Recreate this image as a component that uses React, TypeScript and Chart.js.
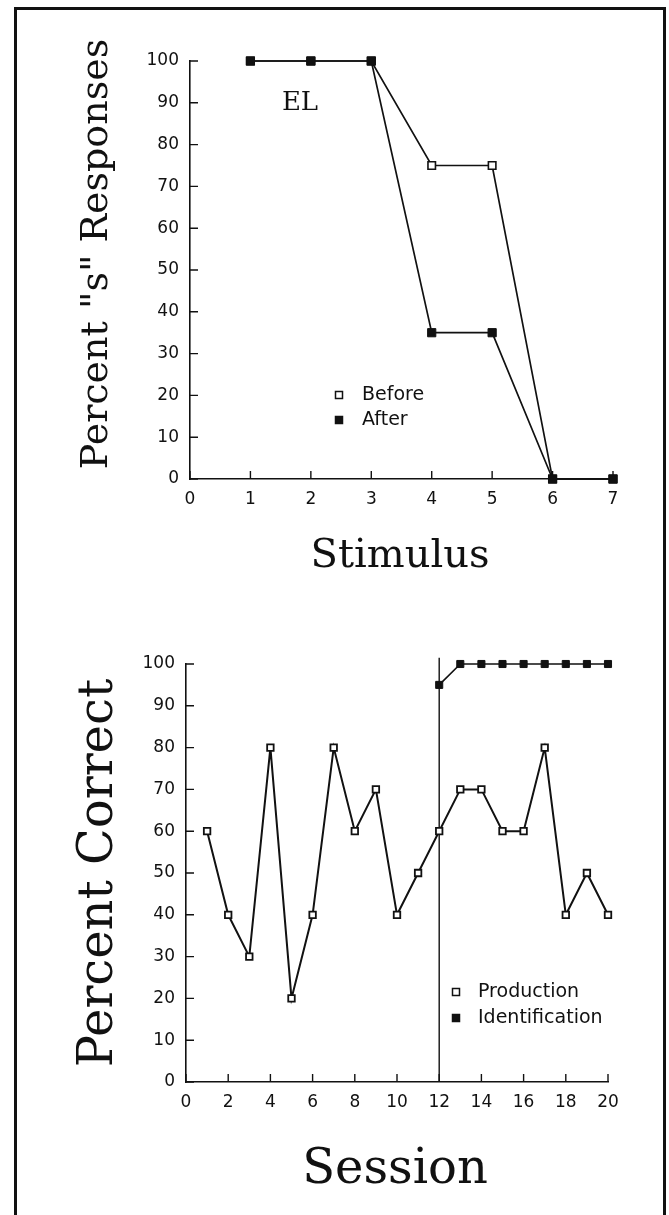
import React, { useEffect, useRef } from "react";
import { Chart, registerables } from "chart.js";

Chart.register(...registerables);

// ---------- Data: top panel (subject EL) ----------
const stimuli = [1, 2, 3, 4, 5, 6, 7];
const beforePercentS = [100, 100, 100, 75, 75, 0, 0];
const afterPercentS = [100, 100, 100, 35, 35, 0, 0];
const stimulusAxisMax = 7;

// ---------- Data: bottom panel ----------
const sessions = [1, 2, 3, 4, 5, 6, 7, 8, 9, 10, 11, 12, 13, 14, 15, 16, 17, 18, 19, 20];
const productionCorrect = [60, 40, 30, 80, 20, 40, 80, 60, 70, 40, 50, 60, 70, 70, 60, 60, 80, 40, 50, 40];
const identificationSessions = [12, 13, 14, 15, 16, 17, 18, 19, 20];
const identificationCorrect = [95, 100, 100, 100, 100, 100, 100, 100, 100];
const phaseChangeSession = 12;
const sessionAxisMax = 20;

const INK = "#111";
const TICK_FONT = { family: "'DejaVu Sans', sans-serif", size: 17 };
const SERIF = "'DejaVu Serif', serif";
const SANS = "'DejaVu Sans', sans-serif";

// ---------- Plugins ----------
const inwardTicks = (length: number, width: number) => ({
  id: "inwardTicks",
  beforeDatasetsDraw(chart: any) {
    const { ctx, chartArea } = chart;
    const xs = chart.scales.x;
    const ys = chart.scales.y;
    ctx.save();
    ctx.strokeStyle = INK;
    ctx.lineWidth = width;
    ctx.beginPath();
    for (const t of xs.ticks) {
      const px = xs.getPixelForValue(t.value);
      ctx.moveTo(px, chartArea.bottom);
      ctx.lineTo(px, chartArea.bottom - length);
    }
    for (const t of ys.ticks) {
      const py = ys.getPixelForValue(t.value);
      ctx.moveTo(chartArea.left, py);
      ctx.lineTo(chartArea.left + length, py);
    }
    ctx.stroke();
    ctx.restore();
  },
});

type TextItem = { text: string; font: string; x: number; y: number; rotate?: number };
const freeText = (items: TextItem[]) => ({
  id: "freeText",
  afterDraw(chart: any) {
    const ctx = chart.ctx;
    for (const it of items) {
      ctx.save();
      ctx.font = it.font;
      ctx.fillStyle = INK;
      ctx.textAlign = "center";
      ctx.textBaseline = "alphabetic";
      ctx.translate(it.x, it.y);
      if (it.rotate) ctx.rotate(it.rotate);
      ctx.fillText(it.text, 0, 0);
      ctx.restore();
    }
  },
});

type LegendItem = { datasetIndex: number; x: number; y: number };
const squareLegend = (items: LegendItem[], size: number, gap: number, font: string) => ({
  id: "squareLegend",
  afterDraw(chart: any) {
    const ctx = chart.ctx;
    for (const it of items) {
      const ds: any = chart.data.datasets[it.datasetIndex];
      ctx.save();
      ctx.fillStyle = ds.pointBackgroundColor;
      ctx.strokeStyle = ds.pointBorderColor;
      ctx.lineWidth = 1.5;
      ctx.beginPath();
      ctx.rect(it.x - size / 2, it.y - size / 2, size, size);
      ctx.fill();
      ctx.stroke();
      ctx.font = font;
      ctx.fillStyle = INK;
      ctx.textAlign = "left";
      ctx.textBaseline = "middle";
      ctx.fillText(ds.label, it.x + gap, it.y);
      ctx.restore();
    }
  },
});

const phaseLine = (value: number, topValue: number) => ({
  id: "phaseLine",
  beforeDatasetsDraw(chart: any) {
    const { ctx } = chart;
    const xs = chart.scales.x;
    const ys = chart.scales.y;
    const px = xs.getPixelForValue(value);
    ctx.save();
    ctx.strokeStyle = INK;
    ctx.lineWidth = 1.4;
    ctx.beginPath();
    ctx.moveTo(px, ys.getPixelForValue(0));
    ctx.lineTo(px, ys.getPixelForValue(topValue));
    ctx.stroke();
    ctx.restore();
  },
});

const axisCommon = (width: number) => ({
  grid: { display: false, drawTicks: false },
  border: { display: true, color: INK, width },
});

// ---------- Configs ----------
function topConfig(): any {
  return {
    type: "line",
    data: {
      datasets: [
        {
          label: "After",
          data: stimuli.map((x, i) => ({ x, y: afterPercentS[i] })),
          borderColor: INK,
          borderWidth: 1.7,
          tension: 0,
          pointStyle: "rect",
          pointRadius: 5.8,
          pointBorderWidth: 1,
          pointBackgroundColor: INK,
          pointBorderColor: INK,
          clip: false,
        },
        {
          label: "Before",
          data: stimuli.map((x, i) => ({ x, y: beforePercentS[i] })),
          borderColor: INK,
          borderWidth: 1.7,
          tension: 0,
          pointStyle: "rect",
          pointRadius: 5.3,
          pointBorderWidth: 1.6,
          pointBackgroundColor: "#fff",
          pointBorderColor: INK,
          clip: false,
        },
      ],
    },
    options: {
      responsive: false,
      animation: false,
      events: [],
      layout: { padding: { left: 0, top: 61, right: 56, bottom: 81 } },
      plugins: { legend: { display: false }, tooltip: { enabled: false } },
      scales: {
        x: {
          type: "linear",
          min: 0,
          max: stimulusAxisMax,
          ticks: { stepSize: 1, padding: 10, font: TICK_FONT, color: INK },
          ...axisCommon(1.6),
          afterFit: (s: any) => {
            s.height = 40;
          },
        },
        y: {
          type: "linear",
          min: 0,
          max: 100,
          ticks: { stepSize: 10, padding: 11, font: TICK_FONT, color: INK },
          ...axisCommon(1.6),
          afterFit: (s: any) => {
            s.width = 190;
          },
        },
      },
    },
    plugins: [
      inwardTicks(8, 1.4),
      freeText([
        { text: 'Percent "s" Responses', font: `38px ${SERIF}`, x: 107, y: 254, rotate: -Math.PI / 2 },
        { text: "Stimulus", font: `40px ${SERIF}`, x: 400, y: 567 },
        { text: "EL", font: `26px ${SERIF}`, x: 300, y: 110 },
      ]),
      squareLegend(
        [
          { datasetIndex: 1, x: 339, y: 395 },
          { datasetIndex: 0, x: 339, y: 420 },
        ],
        7,
        23,
        `19px ${SANS}`
      ),
    ],
  };
}

function bottomConfig(): any {
  return {
    type: "line",
    data: {
      datasets: [
        {
          label: "Identification",
          data: identificationSessions.map((x, i) => ({ x, y: identificationCorrect[i] })),
          borderColor: INK,
          borderWidth: 1.6,
          tension: 0,
          pointStyle: "rect",
          pointRadius: 5,
          pointBorderWidth: 1,
          pointBackgroundColor: INK,
          pointBorderColor: INK,
          clip: false,
        },
        {
          label: "Production",
          data: sessions.map((x, i) => ({ x, y: productionCorrect[i] })),
          borderColor: INK,
          borderWidth: 2,
          tension: 0,
          pointStyle: "rect",
          pointRadius: 4.6,
          pointBorderWidth: 1.8,
          pointBackgroundColor: "#fff",
          pointBorderColor: INK,
          clip: false,
        },
      ],
    },
    options: {
      responsive: false,
      animation: false,
      events: [],
      layout: { padding: { left: 0, top: 64, right: 61, bottom: 93 } },
      plugins: { legend: { display: false }, tooltip: { enabled: false } },
      scales: {
        x: {
          type: "linear",
          min: 0,
          max: sessionAxisMax,
          ticks: { stepSize: 2, padding: 10, font: TICK_FONT, color: INK },
          ...axisCommon(1.6),
          afterFit: (s: any) => {
            s.height = 40;
          },
        },
        y: {
          type: "linear",
          min: 0,
          max: 100,
          ticks: { stepSize: 10, padding: 11, font: TICK_FONT, color: INK },
          ...axisCommon(1.6),
          afterFit: (s: any) => {
            s.width = 186;
          },
        },
      },
    },
    plugins: [
      phaseLine(phaseChangeSession, 101.5),
      inwardTicks(8, 1.4),
      freeText([
        { text: "Percent Correct", font: `48px ${SERIF}`, x: 112, y: 273, rotate: -Math.PI / 2 },
        { text: "Session", font: `48px ${SERIF}`, x: 395, y: 583 },
      ]),
      squareLegend(
        [
          { datasetIndex: 1, x: 456, y: 392 },
          { datasetIndex: 0, x: 456, y: 418 },
        ],
        7,
        22,
        `19px ${SANS}`
      ),
    ],
  };
}

function ChartCanvas({ makeConfig, top, height }: { makeConfig: () => any; top: number; height: number }) {
  const ref = useRef<HTMLCanvasElement>(null);
  useEffect(() => {
    if (!ref.current) return;
    const chart = new Chart(ref.current, makeConfig());
    return () => chart.destroy();
  }, []);
  return (
    <canvas
      ref={ref}
      width={669}
      height={height}
      style={{ position: "absolute", left: 0, top, width: 669, height }}
    />
  );
}

export default function App() {
  return (
    <div
      style={{
        position: "absolute",
        left: 0,
        top: 0,
        width: 669,
        height: 1215,
        overflow: "hidden",
        background: "#fff",
      }}
    >
      <div
        style={{
          position: "absolute",
          left: 14,
          top: 7,
          width: 652,
          height: 1300,
          boxSizing: "border-box",
          border: `3px solid ${INK}`,
        }}
      />
      <ChartCanvas makeConfig={topConfig} top={0} height={600} />
      <ChartCanvas makeConfig={bottomConfig} top={600} height={615} />
    </div>
  );
}
